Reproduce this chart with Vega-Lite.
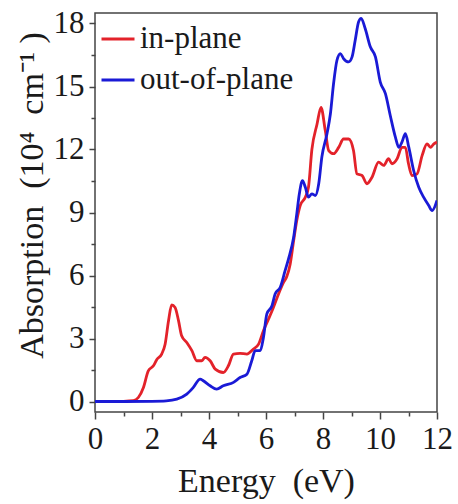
{
  "$schema": "https://vega.github.io/schema/vega-lite/v6.json",
  "width": 342,
  "height": 399,
  "autosize": "none",
  "padding": {"left": 95, "top": 13, "right": 21, "bottom": 92},
  "background": "white",
  "config": {
    "view": {"stroke": "#444444", "strokeWidth": 1.5},
    "font": "Liberation Serif"
  },
  "data": {
    "values": [
      {"series": "in-plane", "energy": 0, "absorption": 0},
      {"series": "in-plane", "energy": 0.5, "absorption": 0},
      {"series": "in-plane", "energy": 1.0, "absorption": 0.01},
      {"series": "in-plane", "energy": 1.35, "absorption": 0.04},
      {"series": "in-plane", "energy": 1.52, "absorption": 0.19},
      {"series": "in-plane", "energy": 1.7, "absorption": 0.67},
      {"series": "in-plane", "energy": 1.87, "absorption": 1.46},
      {"series": "in-plane", "energy": 2.05, "absorption": 1.7},
      {"series": "in-plane", "energy": 2.17, "absorption": 2.0},
      {"series": "in-plane", "energy": 2.34, "absorption": 2.26},
      {"series": "in-plane", "energy": 2.46, "absorption": 2.73},
      {"series": "in-plane", "energy": 2.58, "absorption": 3.85},
      {"series": "in-plane", "energy": 2.69, "absorption": 4.6},
      {"series": "in-plane", "energy": 2.81, "absorption": 4.48},
      {"series": "in-plane", "energy": 2.93, "absorption": 3.85},
      {"series": "in-plane", "energy": 3.04, "absorption": 3.13},
      {"series": "in-plane", "energy": 3.22, "absorption": 2.81},
      {"series": "in-plane", "energy": 3.4, "absorption": 2.42},
      {"series": "in-plane", "energy": 3.57, "absorption": 1.94},
      {"series": "in-plane", "energy": 3.75, "absorption": 1.94},
      {"series": "in-plane", "energy": 3.86, "absorption": 2.1},
      {"series": "in-plane", "energy": 4.04, "absorption": 1.94},
      {"series": "in-plane", "energy": 4.22, "absorption": 1.54},
      {"series": "in-plane", "energy": 4.5, "absorption": 1.38},
      {"series": "in-plane", "energy": 4.68, "absorption": 1.7},
      {"series": "in-plane", "energy": 4.86, "absorption": 2.26},
      {"series": "in-plane", "energy": 5.09, "absorption": 2.29},
      {"series": "in-plane", "energy": 5.33, "absorption": 2.26},
      {"series": "in-plane", "energy": 5.56, "absorption": 2.5},
      {"series": "in-plane", "energy": 5.74, "absorption": 2.73},
      {"series": "in-plane", "energy": 5.91, "absorption": 3.37},
      {"series": "in-plane", "energy": 6.09, "absorption": 3.93},
      {"series": "in-plane", "energy": 6.26, "absorption": 4.48},
      {"series": "in-plane", "energy": 6.44, "absorption": 5.12},
      {"series": "in-plane", "energy": 6.62, "absorption": 5.68},
      {"series": "in-plane", "energy": 6.73, "absorption": 5.95},
      {"series": "in-plane", "energy": 6.85, "absorption": 6.55},
      {"series": "in-plane", "energy": 6.97, "absorption": 7.66},
      {"series": "in-plane", "energy": 7.08, "absorption": 8.62},
      {"series": "in-plane", "energy": 7.2, "absorption": 9.33},
      {"series": "in-plane", "energy": 7.38, "absorption": 9.73},
      {"series": "in-plane", "energy": 7.49, "absorption": 10.2},
      {"series": "in-plane", "energy": 7.61, "absorption": 12.0},
      {"series": "in-plane", "energy": 7.79, "absorption": 13.2},
      {"series": "in-plane", "energy": 7.93, "absorption": 14.0},
      {"series": "in-plane", "energy": 8.08, "absorption": 12.9},
      {"series": "in-plane", "energy": 8.2, "absorption": 11.95},
      {"series": "in-plane", "energy": 8.37, "absorption": 11.8},
      {"series": "in-plane", "energy": 8.55, "absorption": 12.1},
      {"series": "in-plane", "energy": 8.72, "absorption": 12.5},
      {"series": "in-plane", "energy": 8.9, "absorption": 12.5},
      {"series": "in-plane", "energy": 9.07, "absorption": 11.95},
      {"series": "in-plane", "energy": 9.19, "absorption": 10.84},
      {"series": "in-plane", "energy": 9.37, "absorption": 10.76},
      {"series": "in-plane", "energy": 9.54, "absorption": 10.37},
      {"series": "in-plane", "energy": 9.72, "absorption": 10.68},
      {"series": "in-plane", "energy": 9.95, "absorption": 11.4},
      {"series": "in-plane", "energy": 10.13, "absorption": 11.24},
      {"series": "in-plane", "energy": 10.3, "absorption": 11.56},
      {"series": "in-plane", "energy": 10.42, "absorption": 11.32},
      {"series": "in-plane", "energy": 10.6, "absorption": 11.56},
      {"series": "in-plane", "energy": 10.77, "absorption": 12.1},
      {"series": "in-plane", "energy": 10.89, "absorption": 12.1},
      {"series": "in-plane", "energy": 11.0, "absorption": 11.32},
      {"series": "in-plane", "energy": 11.12, "absorption": 10.76},
      {"series": "in-plane", "energy": 11.3, "absorption": 10.84},
      {"series": "in-plane", "energy": 11.48, "absorption": 11.72},
      {"series": "in-plane", "energy": 11.65, "absorption": 12.27},
      {"series": "in-plane", "energy": 11.77, "absorption": 12.1},
      {"series": "in-plane", "energy": 11.89, "absorption": 12.27},
      {"series": "in-plane", "energy": 12.0, "absorption": 12.35},
      {"series": "out-of-plane", "energy": 0, "absorption": 0},
      {"series": "out-of-plane", "energy": 1.0, "absorption": 0},
      {"series": "out-of-plane", "energy": 2.0, "absorption": 0.01},
      {"series": "out-of-plane", "energy": 2.5, "absorption": 0.03},
      {"series": "out-of-plane", "energy": 2.87, "absorption": 0.11},
      {"series": "out-of-plane", "energy": 3.22, "absorption": 0.35},
      {"series": "out-of-plane", "energy": 3.45, "absorption": 0.67},
      {"series": "out-of-plane", "energy": 3.69, "absorption": 1.07},
      {"series": "out-of-plane", "energy": 3.8, "absorption": 0.99},
      {"series": "out-of-plane", "energy": 4.04, "absorption": 0.75},
      {"series": "out-of-plane", "energy": 4.27, "absorption": 0.59},
      {"series": "out-of-plane", "energy": 4.5, "absorption": 0.75},
      {"series": "out-of-plane", "energy": 4.86, "absorption": 0.91},
      {"series": "out-of-plane", "energy": 5.09, "absorption": 1.14},
      {"series": "out-of-plane", "energy": 5.33, "absorption": 1.3},
      {"series": "out-of-plane", "energy": 5.5, "absorption": 1.94},
      {"series": "out-of-plane", "energy": 5.62, "absorption": 2.42},
      {"series": "out-of-plane", "energy": 5.8, "absorption": 2.42},
      {"series": "out-of-plane", "energy": 5.91, "absorption": 3.05},
      {"series": "out-of-plane", "energy": 6.03, "absorption": 4.17},
      {"series": "out-of-plane", "energy": 6.21, "absorption": 4.56},
      {"series": "out-of-plane", "energy": 6.32, "absorption": 5.12},
      {"series": "out-of-plane", "energy": 6.5, "absorption": 5.44},
      {"series": "out-of-plane", "energy": 6.67, "absorption": 6.23},
      {"series": "out-of-plane", "energy": 6.79, "absorption": 6.79},
      {"series": "out-of-plane", "energy": 6.97, "absorption": 7.82},
      {"series": "out-of-plane", "energy": 7.08, "absorption": 8.93},
      {"series": "out-of-plane", "energy": 7.17, "absorption": 9.89},
      {"series": "out-of-plane", "energy": 7.28, "absorption": 10.52},
      {"series": "out-of-plane", "energy": 7.38, "absorption": 10.2},
      {"series": "out-of-plane", "energy": 7.49, "absorption": 9.73},
      {"series": "out-of-plane", "energy": 7.61, "absorption": 9.89},
      {"series": "out-of-plane", "energy": 7.73, "absorption": 9.81},
      {"series": "out-of-plane", "energy": 7.85, "absorption": 10.37},
      {"series": "out-of-plane", "energy": 7.96, "absorption": 11.64},
      {"series": "out-of-plane", "energy": 8.14, "absorption": 12.75},
      {"series": "out-of-plane", "energy": 8.26, "absorption": 13.7},
      {"series": "out-of-plane", "energy": 8.37, "absorption": 15.13},
      {"series": "out-of-plane", "energy": 8.49, "absorption": 16.25},
      {"series": "out-of-plane", "energy": 8.61, "absorption": 16.57},
      {"series": "out-of-plane", "energy": 8.72, "absorption": 16.33},
      {"series": "out-of-plane", "energy": 8.9, "absorption": 16.17},
      {"series": "out-of-plane", "energy": 9.02, "absorption": 16.41},
      {"series": "out-of-plane", "energy": 9.13, "absorption": 17.2},
      {"series": "out-of-plane", "energy": 9.25, "absorption": 18.08},
      {"series": "out-of-plane", "energy": 9.34, "absorption": 18.24},
      {"series": "out-of-plane", "energy": 9.48, "absorption": 17.76},
      {"series": "out-of-plane", "energy": 9.66, "absorption": 16.89},
      {"series": "out-of-plane", "energy": 9.84, "absorption": 16.41},
      {"series": "out-of-plane", "energy": 10.01, "absorption": 15.21},
      {"series": "out-of-plane", "energy": 10.19, "absorption": 14.66},
      {"series": "out-of-plane", "energy": 10.36, "absorption": 13.62},
      {"series": "out-of-plane", "energy": 10.54, "absorption": 12.59},
      {"series": "out-of-plane", "energy": 10.66, "absorption": 12.1},
      {"series": "out-of-plane", "energy": 10.77, "absorption": 12.35},
      {"series": "out-of-plane", "energy": 10.89, "absorption": 12.75},
      {"series": "out-of-plane", "energy": 11.01, "absorption": 12.11},
      {"series": "out-of-plane", "energy": 11.18, "absorption": 11.0},
      {"series": "out-of-plane", "energy": 11.36, "absorption": 10.2},
      {"series": "out-of-plane", "energy": 11.53, "absorption": 9.73},
      {"series": "out-of-plane", "energy": 11.71, "absorption": 9.33},
      {"series": "out-of-plane", "energy": 11.83, "absorption": 9.09},
      {"series": "out-of-plane", "energy": 12.0, "absorption": 9.57}
    ]
  },
  "mark": {"type": "line", "strokeWidth": 2.8, "interpolate": "monotone", "clip": true},
  "encoding": {
    "x": {
      "field": "energy",
      "type": "quantitative",
      "scale": {"domain": [0, 12], "nice": false, "zero": false},
      "axis": {
        "title": "Energy\u00a0\u00a0(eV)",
        "values": [0, 1, 2, 3, 4, 5, 6, 7, 8, 9, 10, 11, 12],
        "labelExpr": "datum.value % 2 === 0 ? datum.label : ''",
        "grid": false,
        "domain": false,
        "tickColor": "#444444",
        "tickWidth": 1.5,
        "tickSize": {"condition": {"test": "datum.value % 2 === 0", "value": 7}, "value": 4},
        "labelFont": "Liberation Serif",
        "labelFontSize": 31,
        "labelColor": "#1a1a1a",
        "labelPadding": 5,
        "labelFlush": false,
        "labelOverlap": false,
        "titleFont": "Liberation Serif",
        "titleFontSize": 34,
        "titleFontWeight": "normal",
        "titleColor": "#1a1a1a",
        "titlePadding": 10
      }
    },
    "y": {
      "field": "absorption",
      "type": "quantitative",
      "scale": {"domain": [-0.5, 18.5], "nice": false, "zero": false},
      "axis": {
        "title": "Absorption\u00a0\u00a0(10⁴\u00a0\u00a0cm⁻¹\u00a0)",
        "values": [0, 1.5, 3, 4.5, 6, 7.5, 9, 10.5, 12, 13.5, 15, 16.5, 18],
        "labelExpr": "datum.value % 3 === 0 ? datum.label : ''",
        "grid": false,
        "domain": false,
        "tickColor": "#444444",
        "tickWidth": 1.5,
        "tickSize": {"condition": {"test": "datum.value % 3 === 0", "value": 6}, "value": 4},
        "labelFont": "Liberation Serif",
        "labelFontSize": 31,
        "labelColor": "#1a1a1a",
        "labelPadding": 5,
        "labelFlush": false,
        "labelOverlap": false,
        "titleFont": "Liberation Serif",
        "titleFontSize": 34,
        "titleFontWeight": "normal",
        "titleColor": "#1a1a1a",
        "titlePadding": 4,
        "titleY": 182
      }
    },
    "color": {
      "field": "series",
      "type": "nominal",
      "scale": {"domain": ["in-plane", "out-of-plane"], "range": ["#e3222a", "#1a1ad6"]},
      "legend": {
        "title": null,
        "orient": "none",
        "legendX": 5,
        "legendY": 8,
        "padding": 0,
        "symbolType": "stroke",
        "symbolSize": 1089,
        "symbolStrokeWidth": 3,
        "labelFont": "Liberation Serif",
        "labelFontSize": 31,
        "labelColor": "#1a1a1a",
        "labelOffset": 4,
        "rowPadding": 8,
        "labelLimit": 300
      }
    }
  }
}
